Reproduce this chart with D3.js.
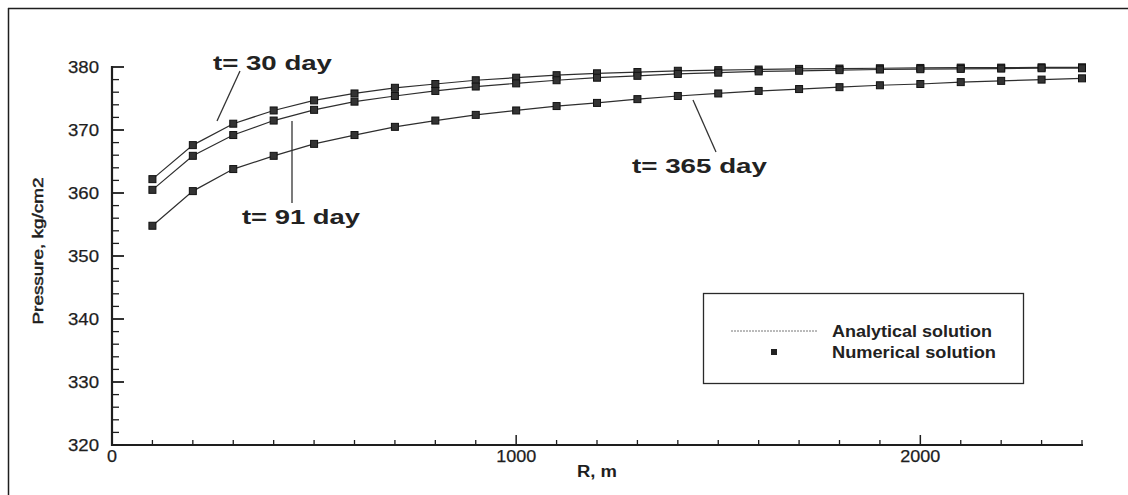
<!DOCTYPE html>
<html><head><meta charset="utf-8">
<script src="https://cdn.jsdelivr.net/npm/d3@7"></script>
<style>
html,body{margin:0;padding:0;background:#fff;}
svg{display:block;font-family:"Liberation Sans",Arial,sans-serif;}
</style></head>
<body>
<svg id="chart" width="1128" height="495"></svg>
<script>
// ---- data ----
const radius = [100,200,300,400,500,600,700,800,900,1000,1100,1200,1300,1400,1500,1600,1700,1800,1900,2000,2100,2200,2300,2400];
const p30  = [362.2,367.6,371.0,373.1,374.7,375.8,376.7,377.3,377.9,378.3,378.7,379.0,379.2,379.4,379.5,379.6,379.7,379.75,379.8,379.85,379.9,379.9,379.95,379.95];
const p91  = [360.5,365.9,369.2,371.5,373.2,374.5,375.4,376.2,376.9,377.4,377.9,378.3,378.6,378.9,379.1,379.3,379.4,379.5,379.6,379.65,379.7,379.75,379.8,379.8];
const p365 = [354.8,360.3,363.8,365.9,367.8,369.2,370.5,371.5,372.4,373.1,373.8,374.3,374.9,375.4,375.8,376.2,376.5,376.8,377.1,377.3,377.6,377.8,378.0,378.2];
const seriesNames = ["t= 30 day","t= 91 day","t= 365 day"];
const xTicksMajor = [0,1000,2000];
const yTicksMajor = [320,330,340,350,360,370,380];
const legendLabels = ["Analytical solution","Numerical solution"];
const xTitle = "R, m";
const yTitle = "Pressure, kg/cm2";

const svg = d3.select("#chart");
const ink = "#1e1e1e";

// frame
svg.append("line").attr("x1",8).attr("y1",8.5).attr("x2",1128).attr("y2",8.5).attr("stroke",ink).attr("stroke-width",1.5);
svg.append("line").attr("x1",8.5).attr("y1",8).attr("x2",8.5).attr("y2",495).attr("stroke",ink).attr("stroke-width",1.5);

const x = d3.scaleLinear().domain([0,2400]).range([112,1082]);
const y = d3.scaleLinear().domain([320,380]).range([445,67]);

// axes
const gx = svg.append("g");
gx.selectAll("line.minor").data(d3.range(100,2401,100).filter(v=>v%1000!==0)).enter().append("line")
  .attr("x1",d=>x(d)).attr("x2",d=>x(d)).attr("y1",445).attr("y2",440).attr("stroke",ink).attr("stroke-width",1.3);
gx.selectAll("line.major").data(xTicksMajor.filter(v=>v>0)).enter().append("line")
  .attr("x1",d=>x(d)).attr("x2",d=>x(d)).attr("y1",445).attr("y2",435).attr("stroke",ink).attr("stroke-width",1.5);
gx.selectAll("text").data(xTicksMajor).enter().append("text")
  .attr("x",d=>x(d)).attr("y",462).attr("text-anchor","middle")
  .attr("font-size",17).attr("fill",ink)
  .style("stroke",ink).style("stroke-width",0.25)
  .attr("textLength",d=>String(d).length*10).attr("lengthAdjust","spacingAndGlyphs")
  .text(d=>d);
svg.append("line").attr("x1",111).attr("x2",1083).attr("y1",445).attr("y2",445).attr("stroke",ink).attr("stroke-width",2.2);

const gy = svg.append("g");
gy.selectAll("line.minor").data(d3.range(322,380,2).filter(v=>v%10!==0)).enter().append("line")
  .attr("x1",112).attr("x2",119).attr("y1",d=>y(d)).attr("y2",d=>y(d)).attr("stroke",ink).attr("stroke-width",1.3);
gy.selectAll("line.major").data(yTicksMajor).enter().append("line")
  .attr("x1",112).attr("x2",124).attr("y1",d=>y(d)).attr("y2",d=>y(d)).attr("stroke",ink).attr("stroke-width",1.8);
gy.selectAll("text").data(yTicksMajor).enter().append("text")
  .attr("x",99).attr("y",d=>y(d)+6).attr("text-anchor","end")
  .attr("font-size",17).attr("fill",ink)
  .style("stroke",ink).style("stroke-width",0.25)
  .attr("textLength",31).attr("lengthAdjust","spacingAndGlyphs")
  .text(d=>d);
svg.append("line").attr("x1",112).attr("x2",112).attr("y1",66).attr("y2",446).attr("stroke",ink).attr("stroke-width",2.2);

// axis titles
svg.append("text").attr("x",597).attr("y",477).attr("text-anchor","middle")
  .attr("font-size",16).attr("font-weight","bold").attr("fill",ink)
  .attr("textLength",40).attr("lengthAdjust","spacingAndGlyphs").text(xTitle);
svg.append("text").attr("transform","translate(43,251) rotate(-90)").attr("text-anchor","middle")
  .attr("font-size",15).attr("fill",ink)
  .attr("textLength",147).attr("lengthAdjust","spacingAndGlyphs")
  .style("stroke",ink).style("stroke-width",0.5)
  .text(yTitle);

// series
const allSeries = [p30,p91,p365];
const line = d3.line().x(d=>x(d[0])).y(d=>y(d[1]));
allSeries.forEach(vals=>{
  const pts = radius.map((r,i)=>[r,vals[i]]);
  svg.append("path").datum(pts).attr("d",line).attr("fill","none")
    .attr("stroke","#2e2e2e").attr("stroke-width",1.2);
});
allSeries.forEach(vals=>{
  const pts = radius.map((r,i)=>[r,vals[i]]);
  svg.append("g").selectAll("rect").data(pts).enter().append("rect")
    .attr("x",d=>x(d[0])-3.5).attr("y",d=>y(d[1])-3.5).attr("width",7).attr("height",7)
    .attr("fill","#333").attr("stroke","#111").attr("stroke-width",1);
});

// annotations
const ann = [
  {t:seriesNames[0], x:213, y:70, len:119, lx1:217, ly1:121, lx2:240, ly2:71},
  {t:seriesNames[1], x:242, y:224, len:118, lx1:292, ly1:121, lx2:292, ly2:203},
  {t:seriesNames[2], x:632, y:173, len:135, lx1:693, ly1:100, lx2:716, ly2:152}
];
ann.forEach(a=>{
  svg.append("line").attr("x1",a.lx1).attr("y1",a.ly1).attr("x2",a.lx2).attr("y2",a.ly2)
    .attr("stroke","#333").attr("stroke-width",1.3);
  svg.append("text").attr("x",a.x).attr("y",a.y).attr("font-size",21).attr("font-weight","bold")
    .attr("fill","#222").attr("textLength",a.len).attr("lengthAdjust","spacingAndGlyphs").text(a.t);
});

// legend
const lg = svg.append("g");
lg.append("rect").attr("x",703.5).attr("y",293.5).attr("width",320).attr("height",90)
  .attr("fill","#fff").attr("stroke","#2a2a2a").attr("stroke-width",1.3);
lg.append("line").attr("x1",731).attr("x2",817).attr("y1",331).attr("y2",331)
  .attr("stroke","#777").attr("stroke-width",1).attr("stroke-dasharray","2,1");
lg.append("rect").attr("x",771).attr("y",349).attr("width",6).attr("height",6).attr("fill","#222");
lg.selectAll("text").data(legendLabels).enter().append("text")
  .attr("x",832).attr("y",(d,i)=>337+i*21).attr("font-size",17).attr("font-weight","bold").attr("fill","#222")
  .attr("textLength",(d,i)=>i===0?160:164).attr("lengthAdjust","spacingAndGlyphs").text(d=>d);
</script>
</body></html>
